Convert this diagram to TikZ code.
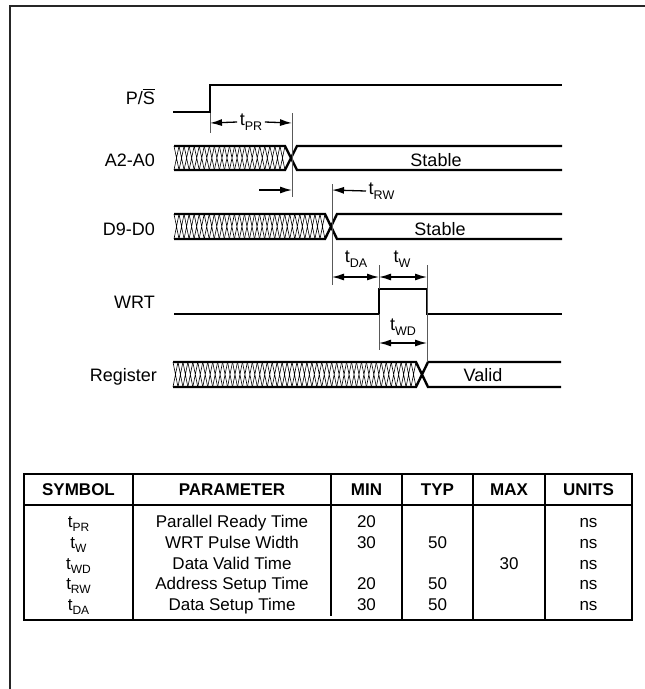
\documentclass[tikz,border=0pt]{standalone}
\usepackage{fontspec}
\setmainfont{Liberation Sans}
\usetikzlibrary{arrows.meta}
\newcommand{\tsub}[1]{t\raisebox{-0.28em}{\fontsize{12.5}{13}\selectfont #1}}
\newcommand{\tsubs}[1]{t\raisebox{-0.28em}{\fontsize{12}{13}\selectfont #1}}
\newcommand{\ovS}{{\setbox0\hbox{S}\rlap{\rule[\dimexpr\ht0+1.6pt\relax]{\wd0}{0.9pt}}S}}
\newcommand{\hbus}[5]{%
  \pgfmathsetmacro{\hbA}{#2-6}%
  \pgfmathtruncatemacro{\hbN}{round((\hbA-#1)/5)}%
  \pgfmathsetmacro{\hbP}{(\hbA-#1)/\hbN}%
  \foreach \i in {1,...,\hbN}{%
    \draw[hatch] ({#1+(\i-1)*\hbP},#4) -- ({#1+\i*\hbP},#5)
                 ({#1+(\i-1)*\hbP},#5) -- ({#1+\i*\hbP},#4);
  }%
  \draw[bus] (#1,#4) -- (\hbA,#4) -- ({#2+6},#5) -- (#3,#5)
             (#1,#5) -- (\hbA,#5) -- ({#2+6},#4) -- (#3,#4);
}
\begin{document}
\begin{tikzpicture}[x=1pt,y=-1pt,
  sig/.style={line width=2.6pt},
  bus/.style={line width=2.4pt},
  hatch/.style={line width=0.6pt},
  tick/.style={line width=0.9pt,draw=black!65},
  dim/.style={line width=1.3pt,-{Latex[length=12pt,width=7pt]}},
  ddim/.style={line width=1.3pt,{Latex[length=12pt,width=7pt]}-{Latex[length=12pt,width=7pt]}},
  lbl/.style={font=\fontsize{18}{20}\selectfont,anchor=base east,inner sep=0pt},
  val/.style={font=\fontsize{18}{20}\selectfont,anchor=base,inner sep=0pt},
  dl/.style={font=\fontsize{18}{20}\selectfont,inner sep=2.5pt},
  th/.style={font=\fontsize{17}{19}\selectfont\bfseries,anchor=base,inner sep=0pt},
  td/.style={font=\fontsize{17}{19}\selectfont,anchor=base,inner sep=0pt},
  frame/.style={line width=2.2pt,draw=black!85},
  tbl/.style={line width=2pt},
  col/.style={line width=1.2pt}
]
\useasboundingbox (0,0) rectangle (645,689);
% frame
\draw[frame] (10,689) -- (10,6) -- (645,6);

% signal labels
\node[lbl] (lPS) at (155,104.5) {P/\ovS};
\node[lbl] (lA) at (155,166.5) {A2-A0};
\node[lbl] (lD) at (155,235) {D9-D0};
\node[lbl] (lW) at (155,308) {WRT};
\node[lbl] (lR) at (157,381) {Register};

% P/S
\draw[sig] (173,112) -- (210,112) -- (210,85) -- (562,85);
% buses
\hbus{174}{291}{562}{146}{170}
\hbus{174}{331}{562}{214}{239}
\hbus{173}{422}{561}{362}{387}
\node[val] (vA) at (436,166) {Stable};
\node[val] (vD) at (440,235) {Stable};
\node[val] (vR) at (483,381) {Valid};
% WRT
\draw[sig] (174,314) -- (379,314) -- (379,289) -- (427,289) -- (427,314) -- (562,314);

% ticks
\draw[tick] (210,113) -- (210,133);
\draw[tick] (292,113) -- (292,197);
\draw[tick] (332,184) -- (332,285);
\draw[tick] (379,265) -- (379,289);
\draw[tick] (379,314) -- (379,350);
\draw[tick] (427,265) -- (427,362);

% coordinates for dimension arrows
\coordinate (pr1) at (210,123);
\coordinate (pr2) at (292,123);
\coordinate (rw0) at (259,190);
\coordinate (rw1) at (292,190);
\coordinate (rw2) at (332,190);
\coordinate (da1) at (332,277);
\coordinate (da2) at (379,277);
\coordinate (w2) at (427,277);
\coordinate (wd1) at (379,343);
\coordinate (wd2) at (427,343);

\node[dl] (tPR) at (251,122) {\tsub{PR}};
\draw[dim] (tPR.west) -- (pr1);
\draw[dim] (tPR.east) -- (pr2);
\draw[dim] (rw0) -- (rw1);
\node[dl,anchor=west] (tRW) at (366,191) {\tsub{RW}};
\draw[dim] (tRW.west) -- (rw2);
\node[dl] (tDA) at (356,259) {\tsub{DA}};
\node[dl] (tW) at (402,259) {\tsub{W}};
\draw[ddim] (da1) -- (da2);
\draw[ddim] (da2) -- (w2);
\node[dl] (tWD) at (403,327) {\tsub{WD}};
\draw[ddim] (wd1) -- (wd2);

% table
\draw[tbl] (24,474) rectangle (632,620);
\draw[tbl] (24,505) -- (632,505);
\foreach \cx in {133,402,473,545} \draw[col] (\cx,474) -- (\cx,620);
\draw[col] (331,474) -- (331,616);

\node[th] (hS) at (78.5,495.5) {SYMBOL};
\node[th] (hP) at (232,495.5) {PARAMETER};
\node[th] (hMin) at (366.5,495.5) {MIN};
\node[th] (hTyp) at (437.5,495.5) {TYP};
\node[th] (hMax) at (509,495.5) {MAX};
\node[th] (hU) at (588.5,495.5) {UNITS};

\node[td] (s1) at (78.5,527) {\tsubs{PR}};
\node[td] (p1) at (232,527) {Parallel Ready Time};
\node[td] (mn1) at (366.5,527) {20};
\node[td] (u1) at (588.5,527) {ns};

\node[td] (s2) at (78.5,548) {\tsubs{W}};
\node[td] (p2) at (232,548) {WRT Pulse Width};
\node[td] (mn2) at (366.5,548) {30};
\node[td] (ty2) at (437.5,548) {50};
\node[td] (u2) at (588.5,548) {ns};

\node[td] (s3) at (78.5,569) {\tsubs{WD}};
\node[td] (p3) at (232,569) {Data Valid Time};
\node[td] (mx3) at (509,569) {30};
\node[td] (u3) at (588.5,569) {ns};

\node[td] (s4) at (78.5,589) {\tsubs{RW}};
\node[td] (p4) at (232,589) {Address Setup Time};
\node[td] (mn4) at (366.5,589) {20};
\node[td] (ty4) at (437.5,589) {50};
\node[td] (u4) at (588.5,589) {ns};

\node[td] (s5) at (78.5,610) {\tsubs{DA}};
\node[td] (p5) at (232,610) {Data Setup Time};
\node[td] (mn5) at (366.5,610) {30};
\node[td] (ty5) at (437.5,610) {50};
\node[td] (u5) at (588.5,610) {ns};
\end{tikzpicture}
\end{document}
